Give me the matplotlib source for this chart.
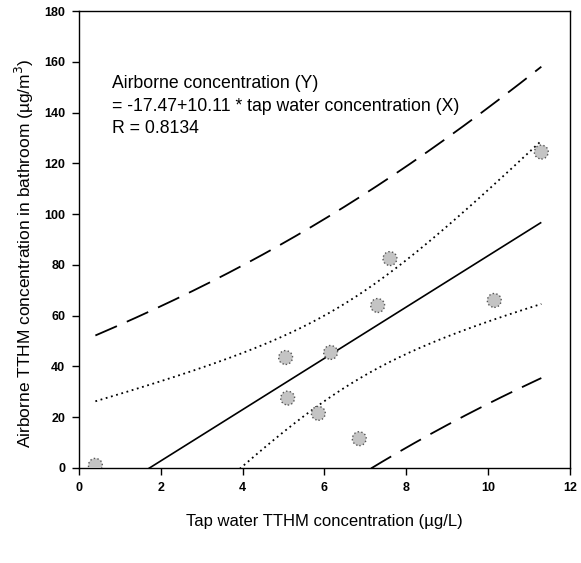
import numpy as np
import matplotlib
matplotlib.use("Agg")
import matplotlib.pyplot as plt

plt.rcParams['font.family'] = ['Liberation Sans', 'DejaVu Sans']

# Tap water vs. airborne TTHM measurements
tap_water = [0.4, 5.05, 5.1, 5.85, 6.15, 6.85, 7.3, 7.6, 10.15, 11.3]
airborne = [1.0, 43.5, 27.5, 21.5, 45.5, 11.5, 64.0, 82.5, 66.0, 124.5]

# Reported regression coefficients
intercept = -17.47
slope = 10.11
r_value = 0.8134

x_ticks = [0, 2, 4, 6, 8, 10, 12]
y_ticks = [0, 20, 40, 60, 80, 100, 120, 140, 160, 180]

x = np.asarray(tap_water)
y = np.asarray(airborne)
n = len(x)

# 95% confidence and prediction bands around the fitted line
t_crit = 2.306  # Student t, 0.975 quantile, 8 degrees of freedom
resid = y - (intercept + slope * x)
s = np.sqrt(np.sum(resid ** 2) / (n - 2))
sxx = np.sum((x - x.mean()) ** 2)
xs = np.linspace(x.min(), x.max(), 300)
fit = intercept + slope * xs
conf = t_crit * s * np.sqrt(1.0 / n + (xs - x.mean()) ** 2 / sxx)
pred = t_crit * s * np.sqrt(1.0 + 1.0 / n + (xs - x.mean()) ** 2 / sxx)

fig = plt.figure(figsize=(5.81, 5.63), dpi=100)
ax = fig.add_axes([0.136, 0.169, 0.845, 0.811])

ax.plot(xs, fit, color='black', lw=1.2, solid_capstyle='butt')
ax.plot(xs, fit + conf, color='black', lw=1.3, linestyle=(0, (1, 2)))
ax.plot(xs, fit - conf, color='black', lw=1.3, linestyle=(0, (1, 2)))
ax.plot(xs, fit + pred, color='black', lw=1.3, linestyle=(0, (13, 6)))
ax.plot(xs, fit - pred, color='black', lw=1.3, linestyle=(0, (13, 6)))

ax.scatter(x, y, s=100, facecolor='#c4c4c4', edgecolor='#555555',
           linewidths=1.0, linestyles=':', zorder=3)

ax.set_xlim(0, 12)
ax.set_ylim(0, 180)
ax.set_xticks(x_ticks)
ax.set_yticks(y_ticks)
ax.tick_params(direction='out', length=5, width=1, labelsize=9, pad=5)
for lbl in ax.get_xticklabels() + ax.get_yticklabels():
    lbl.set_fontweight('bold')
for sp in ax.spines.values():
    sp.set_linewidth(1.0)

ax.set_xlabel('Tap water TTHM concentration (\u00b5g/L)', fontsize=12)
ax.set_ylabel('Airborne TTHM concentration in bathroom (\u00b5g/m$^3$)', fontsize=12.5)
ax.xaxis.set_label_coords(0.5, -0.1)
ax.yaxis.set_label_coords(-0.088, 0.47)

ax.text(0.8, 151.5, 'Airborne concentration (Y)', fontsize=12.7, va='center')
ax.text(0.8, 142.3, '= %.2f+%.2f * tap water concentration (X)' % (intercept, slope),
        fontsize=12.7, va='center')
ax.text(0.8, 133.8, 'R = %.4f' % r_value, fontsize=12.7, va='center')

fig.savefig('out.png', dpi=100)
